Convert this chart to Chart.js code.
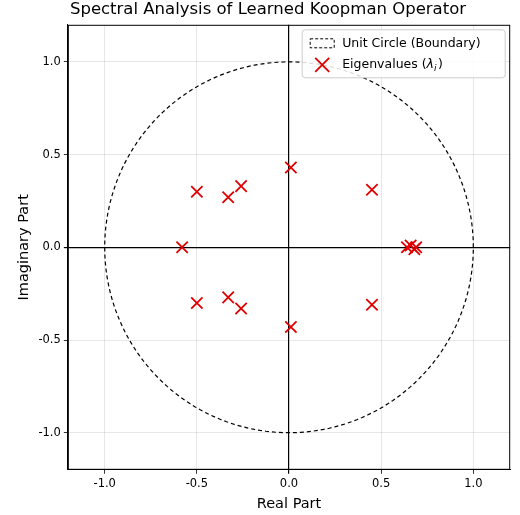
<!DOCTYPE html>
<html><head><meta charset="utf-8">
<script src="https://cdn.jsdelivr.net/npm/chart.js@4"></script>
<style>body{margin:0;background:#fff}#w{width:520px;height:515px}</style>
</head><body><div id="w"><canvas id="c"></canvas></div>
<script>
// eigenvalues
const eigReal = [0.01, 0.45, -0.50, -0.26, -0.33, -0.58, -0.50, -0.33, -0.26, 0.01, 0.45, 0.64, 0.66, 0.68, 0.69];
const eigImag = [0.43, 0.31, 0.30, 0.33, 0.27, 0.00, -0.30, -0.27, -0.33, -0.43, -0.31, 0.00, 0.01, -0.01, 0.00];
const tickVals = [-1.0, -0.5, 0.0, 0.5, 1.0];
const legendLabels = ['Unit Circle (Boundary)', 'Eigenvalues ('];

Chart.defaults.font.family = 'DejaVu Sans';

const circle = [];
for (let i = 0; i <= 200; i++) {
    const a = i / 200 * 2 * Math.PI;
    circle.push({x: Math.cos(a), y: Math.sin(a)});
}
const eig = eigReal.map((x, i) => ({x: x, y: eigImag[i]}));

const isZero = c => c.tick && c.tick.value === 0;

function axis(title) {
    return {
        min: -1.2, max: 1.2,
        afterBuildTicks: a => { a.ticks = tickVals.map(v => ({value: v})); },
        ticks: {color: '#000', font: {size: 11.5}, callback: v => v.toFixed(1), padding: 3},
        grid: {color: c => isZero(c) ? '#000' : 'rgba(0,0,0,0.12)', lineWidth: c => isZero(c) ? 1.2 : 0.8,
               tickColor: '#000', tickLength: 4},
        border: {color: '#000'},
        title: {display: true, text: title, color: '#000', font: {size: 14.5}, padding: 2}
    };
}

// frame around plot area + matplotlib-like legend box
const framePlugin = {
    id: 'frame',
    afterDraw(chart) {
        const {ctx, chartArea: a} = chart;
        ctx.save();
        ctx.strokeStyle = '#000'; ctx.lineWidth = 1;
        ctx.strokeRect(a.left + 0.5, a.top + 0.5, a.right - a.left - 1, a.bottom - a.top - 1);
        const w = 203, h = 48, x0 = a.right - w - 5, y0 = a.top + 5;
        ctx.fillStyle = 'rgba(255,255,255,0.85)';
        ctx.strokeStyle = '#ccc';
        ctx.beginPath(); ctx.roundRect(x0, y0, w, h, 3); ctx.fill(); ctx.stroke();
        ctx.strokeStyle = '#000'; ctx.setLineDash([3, 2]);
        ctx.strokeRect(x0 + 8, y0 + 9, 24, 9);
        ctx.setLineDash([]);
        ctx.strokeStyle = '#e00000'; ctx.lineWidth = 1.8;
        const cx = x0 + 20, cy = y0 + 35, r = 7;
        ctx.beginPath(); ctx.moveTo(cx - r, cy - r); ctx.lineTo(cx + r, cy + r);
        ctx.moveTo(cx + r, cy - r); ctx.lineTo(cx - r, cy + r); ctx.stroke();
        ctx.fillStyle = '#000'; ctx.font = '12.5px "DejaVu Sans"'; ctx.textBaseline = 'middle';
        ctx.fillText(legendLabels[0], x0 + 40, y0 + 14);
        ctx.fillText(legendLabels[1], x0 + 40, cy);
        let tx = x0 + 40 + ctx.measureText(legendLabels[1]).width;
        ctx.font = 'italic 12.5px "DejaVu Sans"'; ctx.fillText('λ', tx, cy);
        tx += ctx.measureText('λ').width;
        ctx.font = 'italic 9px "DejaVu Sans"'; ctx.fillText('i', tx, cy + 4);
        ctx.font = '12.5px "DejaVu Sans"'; ctx.fillText(')', tx + 4, cy);
        ctx.restore();
    }
};

new Chart(document.getElementById('c'), {
    type: 'scatter',
    data: {datasets: [
        {label: legendLabels[0], data: circle, showLine: true, pointRadius: 0,
         borderColor: '#000', borderWidth: 1.2, borderDash: [4, 3], backgroundColor: 'transparent'},
        {label: 'Eigenvalues', data: eig, pointStyle: 'crossRot', pointRadius: 8,
         borderColor: '#e00000', borderWidth: 1.8}
    ]},
    options: {
        responsive: true, maintainAspectRatio: false, animation: false,
        layout: {padding: {left: 14, right: -2, bottom: 0}},
        plugins: {
            title: {display: true, text: 'Spectral Analysis of Learned Koopman Operator', color: '#000',
                    font: {size: 16.5, weight: 'normal'}, padding: {top: 0, bottom: 5}},
            legend: {display: false},
            tooltip: {enabled: false}
        },
        scales: {x: axis('Real Part'), y: axis('Imaginary Part')}
    },
    plugins: [framePlugin]
});
</script></body></html>
